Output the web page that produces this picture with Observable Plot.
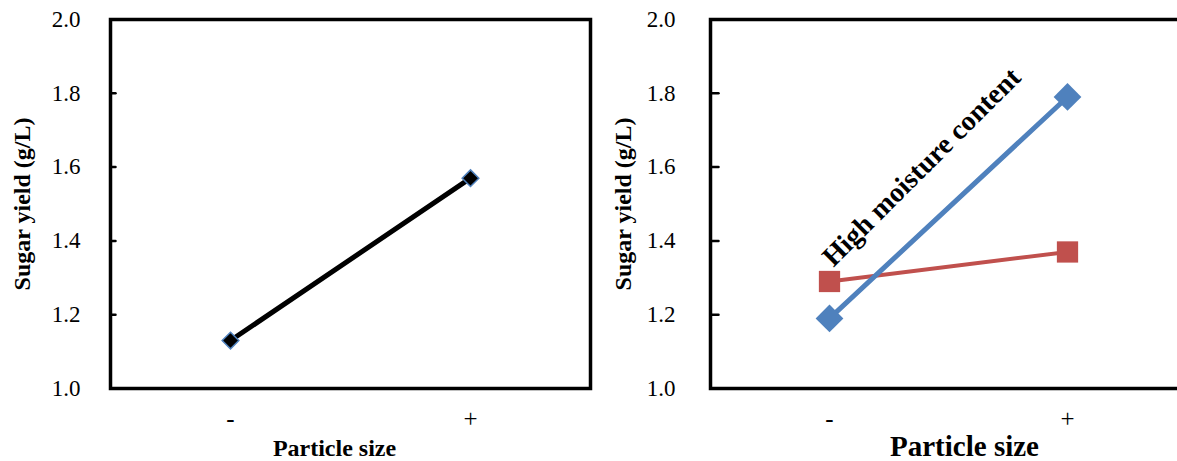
<!DOCTYPE html>
<html><head><meta charset="utf-8">
<script src="https://cdn.jsdelivr.net/npm/d3@7"></script>
<script src="https://cdn.jsdelivr.net/npm/@observablehq/plot@0.6"></script>
<style>
body{margin:0;background:#fff;overflow:hidden}
#wrap{display:flex;width:1177px;height:461px;overflow:hidden;background:#fff}
#wrap svg{flex:none}
</style>
</head><body><div id="wrap"></div>
<script>
// ---- data ----
const sizes = ["-", "+"];
const yTicks = [1.0, 1.2, 1.4, 1.6, 1.8, 2.0];
const leftValues = [1.13, 1.57];
const highMoistureValues = [1.19, 1.79];
const lowMoistureValues = [1.29, 1.37];
const yLabel = "Sugar yield (g/L)";
const xLabel = "Particle size";
const annotationText = "High moisture content";
const annotationSize = "-";
const annotationValue = 1.6;

const leftRows = sizes.map((s, i) => ({size: s, value: leftValues[i]}));
const highRows = sizes.map((s, i) => ({size: s, value: highMoistureValues[i]}));
const lowRows = sizes.map((s, i) => ({size: s, value: lowMoistureValues[i]}));

const FONT = "Liberation Serif, Times New Roman, serif";
const tickShape = {draw(context, l) { context.moveTo(0, 0); context.lineTo(0, -l); }};

function panel({marginRight, tickPad, tickLen, xLabelSize, xLabelDx, yLabelDx, marks}) {
  return Plot.plot({
    width: 600, height: 461,
    marginLeft: 110, marginRight, marginTop: 19, marginBottom: 73,
    style: {fontFamily: FONT, background: "white", color: "black", overflow: "visible"},
    x: {type: "point", domain: sizes, padding: 0.5, label: null},
    y: {domain: [1, 2], label: null},
    marks: [
      Plot.axisY({ticks: yTicks, tickFormat: d3.format(".1f"), tickSize: 0, tickPadding: tickPad,
        fontSize: 23, fontFamily: FONT, label: null}),
      Plot.axisX({tickSize: 0, tickPadding: 21, fontSize: 25, fontFamily: FONT, label: null}),
      Plot.vector(yTicks.slice(1, -1), {y: d => d, frameAnchor: "left", length: tickLen, rotate: 90,
        anchor: "start", shape: tickShape, stroke: "black", strokeWidth: 2.5}),
      ...marks,
      Plot.frame({stroke: "black", strokeWidth: 3.5}),
      Plot.text([yLabel], {text: d => d, frameAnchor: "left", rotate: -90, dx: yLabelDx, dy: 0,
        fontSize: 24, fontWeight: "bold", fontFamily: FONT, lineAnchor: "middle", textAnchor: "middle", fill: "black"}),
      Plot.text([xLabel], {text: d => d, frameAnchor: "bottom", dx: xLabelDx, dy: 67,
        fontSize: xLabelSize, fontWeight: "bold", fontFamily: FONT, lineAnchor: "bottom", textAnchor: "middle", fill: "black"})
    ]
  });
}

const left = panel({
  marginRight: 10, tickPad: 30, tickLen: 5, xLabelSize: 24, xLabelDx: -16, yLabelDx: -88,
  marks: [
    Plot.line(leftRows, {x: "size", y: "value", stroke: "black", strokeWidth: 5}),
    Plot.dot(leftRows, {x: "size", y: "value", symbol: "diamond2", r: 7.5, fill: "black",
      stroke: "#4f81bd", strokeWidth: 1.5})
  ]
});

const right = panel({
  marginRight: 14, tickPad: 35, tickLen: 8, xLabelSize: 29, xLabelDx: 16, yLabelDx: -87,
  marks: [
    Plot.line(lowRows, {x: "size", y: "value", stroke: "#c0504d", strokeWidth: 4}),
    Plot.line(highRows, {x: "size", y: "value", stroke: "#4f81bd", strokeWidth: 5}),
    Plot.dot(lowRows, {x: "size", y: "value", symbol: "square", r: 12, fill: "#c0504d"}),
    Plot.dot(highRows, {x: "size", y: "value", symbol: "diamond2", r: 12.5, fill: "#4f81bd"}),
    Plot.text([{label: annotationText, size: annotationSize, value: annotationValue}],
      {x: "size", y: "value", text: "label", dx: 92, rotate: -45, fontSize: 28, fontWeight: "bold",
       fontFamily: FONT, textAnchor: "middle", lineAnchor: "middle", fill: "black"})
  ]
});

document.getElementById("wrap").append(left, right);
</script>
</body></html>
